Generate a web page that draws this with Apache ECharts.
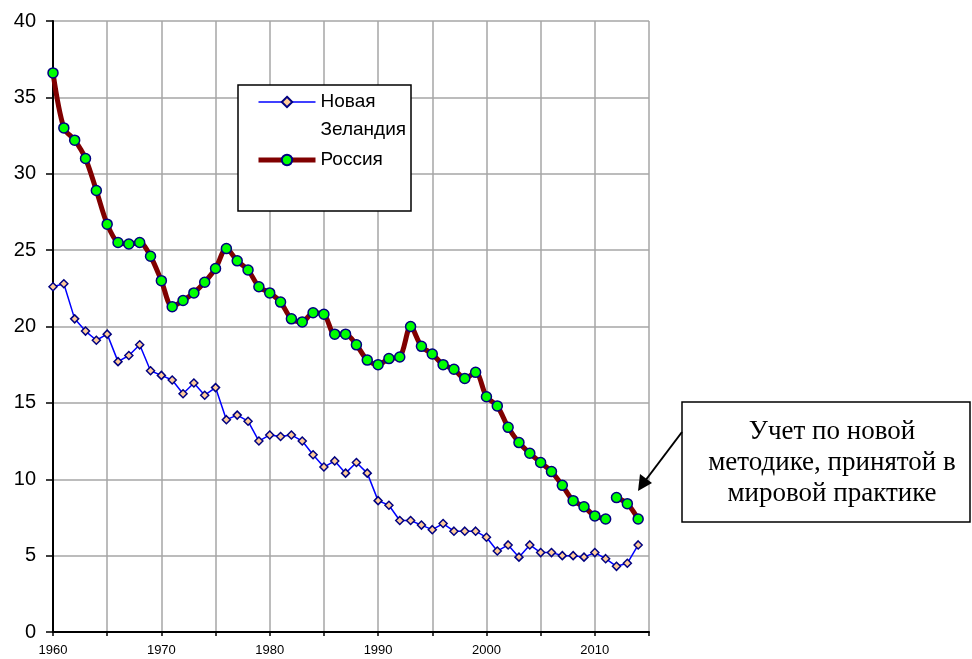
<!DOCTYPE html>
<html>
<head>
<meta charset="utf-8">
<script src="https://cdn.jsdelivr.net/npm/echarts@6/dist/echarts.min.js"></script>
<style>
  html, body { margin: 0; padding: 0; background: #fff; }
  #chart { width: 972px; height: 659px; }
</style>
</head>
<body>
<div id="chart"></div>
<script>
  // годы 1960..2015 (2015 - пустой, только рамка)
  var years = [];
  for (var y = 1960; y <= 2015; y++) years.push(String(y));

  var nzName = 'Новая Зеландия';
  var ruName = 'Россия';

  var nzValues = [
    22.6, 22.8, 20.5, 19.7, 19.1, 19.5, 17.7, 18.1, 18.8, 17.1,
    16.8, 16.5, 15.6, 16.3, 15.5, 16.0, 13.9, 14.2, 13.8, 12.5,
    12.9, 12.8, 12.9, 12.5, 11.6, 10.8, 11.2, 10.4, 11.1, 10.4,
    8.6, 8.3, 7.3, 7.3, 7.0, 6.7, 7.1, 6.6, 6.6, 6.6,
    6.2, 5.3, 5.7, 4.9, 5.7, 5.2, 5.2, 5.0, 5.0, 4.9,
    5.2, 4.8, 4.3, 4.5, 5.7
  ];

  var ruValues = [
    36.6, 33.0, 32.2, 31.0, 28.9, 26.7, 25.5, 25.4, 25.5, 24.6,
    23.0, 21.3, 21.7, 22.2, 22.9, 23.8, 25.1, 24.3, 23.7, 22.6,
    22.2, 21.6, 20.5, 20.3, 20.9, 20.8, 19.5, 19.5, 18.8, 17.8,
    17.5, 17.9, 18.0, 20.0, 18.7, 18.2, 17.5, 17.2, 16.6, 17.0,
    15.4, 14.8, 13.4, 12.4, 11.7, 11.1, 10.5, 9.6, 8.6, 8.2,
    7.6, 7.4
  ];

  // новая методика учета
  var ruNewYears = ['2012', '2013', '2014'];
  var ruNewValues = [8.8, 8.4, 7.4];

  var noteLines = ['Учет по новой', 'методике, принятой в', 'мировой практике'];

  var chart = echarts.init(document.getElementById('chart'));

  var ruStyle = {
    type: 'line',
    smooth: 0.3,
    symbol: 'circle',
    symbolSize: 10,
    showAllSymbol: true,
    lineStyle: { color: '#800000', width: 5 },
    itemStyle: { color: '#00ff00', borderColor: '#000080', borderWidth: 1.5 },
    z: 3
  };

  chart.setOption({
    animation: false,
    backgroundColor: '#ffffff',
    textStyle: { fontFamily: 'Liberation Sans, Arial, sans-serif' },
    grid: { left: 53, right: 323, top: 21, bottom: 27 },
    legend: {
      orient: 'vertical',
      left: 256,
      top: 60,
      padding: 0,
      itemGap: 2,
      itemWidth: 57,
      itemHeight: 13,
      data: [
        { name: nzName, lineStyle: { width: 1.5 } },
        { name: ruName, lineStyle: { width: 5 } }
      ],
      // пустая первая строка, чтобы значок стоял напротив «Новая»
      formatter: function (name) {
        return name === nzName ? '\n' + name.replace(' ', '\n') : name;
      },
      textStyle: { fontSize: 19, lineHeight: 28, color: '#000' }
    },
    xAxis: {
      type: 'category',
      data: years,
      boundaryGap: false,
      axisLine: { lineStyle: { color: '#000', width: 2 } },
      axisTick: { interval: 4, length: 4, lineStyle: { color: '#000', width: 1.5 } },
      axisLabel: { interval: 9, margin: 12, fontSize: 13, color: '#000' },
      splitLine: { show: true, interval: 4, lineStyle: { color: '#a6a6a6', width: 1.5 } }
    },
    yAxis: {
      type: 'value',
      min: 0,
      max: 40,
      interval: 5,
      axisLine: { show: true, lineStyle: { color: '#000', width: 2 } },
      axisTick: { show: true, length: 7, lineStyle: { color: '#000', width: 1.5 } },
      axisLabel: { margin: 17, fontSize: 20, color: '#000' },
      splitLine: { lineStyle: { color: '#a6a6a6', width: 1.5 } }
    },
    series: [
      {
        name: nzName,
        type: 'line',
        data: nzValues,
        symbol: 'diamond',
        symbolSize: 8,
        showAllSymbol: true,
        lineStyle: { color: '#0000ff', width: 1.5 },
        itemStyle: { color: '#ffcc99', borderColor: '#000080', borderWidth: 1.5 },
        z: 4
      },
      Object.assign({ name: ruName, data: ruValues }, ruStyle),
      Object.assign({
        name: ruName,
        data: ruNewYears.map(function (yr, i) { return [yr, ruNewValues[i]]; })
      }, ruStyle)
    ],
    graphic: [
      {
        type: 'rect', z: 1,
        shape: { x: 238, y: 85, width: 173, height: 126 },
        style: { fill: '#fff', stroke: '#000', lineWidth: 1.5 }
      },
      {
        type: 'rect', z: 10,
        shape: { x: 682, y: 402, width: 288, height: 120 },
        style: { fill: '#fff', stroke: '#000', lineWidth: 1.5 }
      },
      {
        type: 'text', z: 11,
        x: 832, y: 463,
        style: {
          text: noteLines.join('\n'),
          font: '27px "Liberation Serif", "Times New Roman", serif',
          lineHeight: 31,
          fill: '#000',
          align: 'center',
          verticalAlign: 'middle'
        }
      },
      {
        type: 'line', z: 11,
        shape: { x1: 682, y1: 432, x2: 645, y2: 481 },
        style: { stroke: '#000', lineWidth: 2 }
      },
      {
        type: 'polygon', z: 11,
        shape: { points: [[638, 491], [640, 474], [652, 483]] },
        style: { fill: '#000' }
      }
    ]
  });
</script>
</body>
</html>
